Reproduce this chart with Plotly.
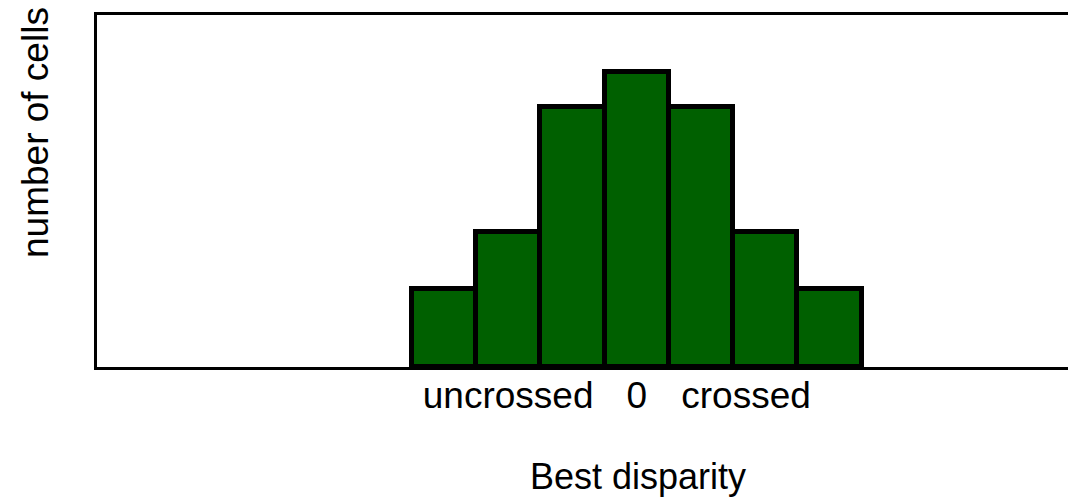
import plotly.graph_objects as go

# Data
disparity_bins = [-3, -2, -1, 0, 1, 2, 3]
cell_counts = [2.22, 3.84, 7.39, 8.38, 7.39, 3.84, 2.22]
tick_positions = [-2.0, 0, 1.7]
tick_labels = ["uncrossed", "0", "crossed"]

FONT = "Liberation Sans, Arial, Helvetica, sans-serif"

fig = go.Figure()
fig.add_trace(go.Bar(
    x=disparity_bins,
    y=cell_counts,
    width=1,
    marker=dict(color="#006000", line=dict(color="black", width=5)),
    showlegend=False,
))

fig.update_layout(
    width=1068, height=503,
    margin=dict(l=97, r=0, t=15, b=136),
    paper_bgcolor="white", plot_bgcolor="white",
    bargap=0,
    font=dict(family=FONT, size=36, color="black"),
    xaxis=dict(
        range=[-8.394, 6.707],
        showline=True, linecolor="black", linewidth=2.5, mirror=True,
        showgrid=False, zeroline=False,
        tickmode="array", tickvals=tick_positions, ticktext=tick_labels,
        ticks="", tickfont=dict(size=37),
        ticklabelstandoff=-6,
    ),
    yaxis=dict(
        range=[0, 10],
        showline=True, linecolor="black", linewidth=2.5, mirror=False,
        showgrid=False, zeroline=False,
        showticklabels=False, ticks="",
    ),
    annotations=[
        dict(text="Best disparity", xref="paper", yref="paper",
             x=(638 - 97) / (1068 - 97), y=-(476 - 367) / 352,
             xanchor="center", yanchor="middle", showarrow=False,
             font=dict(size=36)),
        dict(text="number of cells", xref="paper", yref="paper",
             x=-(97 - 35) / (1068 - 97), y=(367 - 133) / 352,
             xanchor="center", yanchor="middle", showarrow=False,
             textangle=-90, font=dict(size=37)),
    ],
)

fig.write_html(
    "out.html",
    config={"displayModeBar": False},
    post_script="document.body.style.margin='0';document.body.style.overflow='hidden';",
)
